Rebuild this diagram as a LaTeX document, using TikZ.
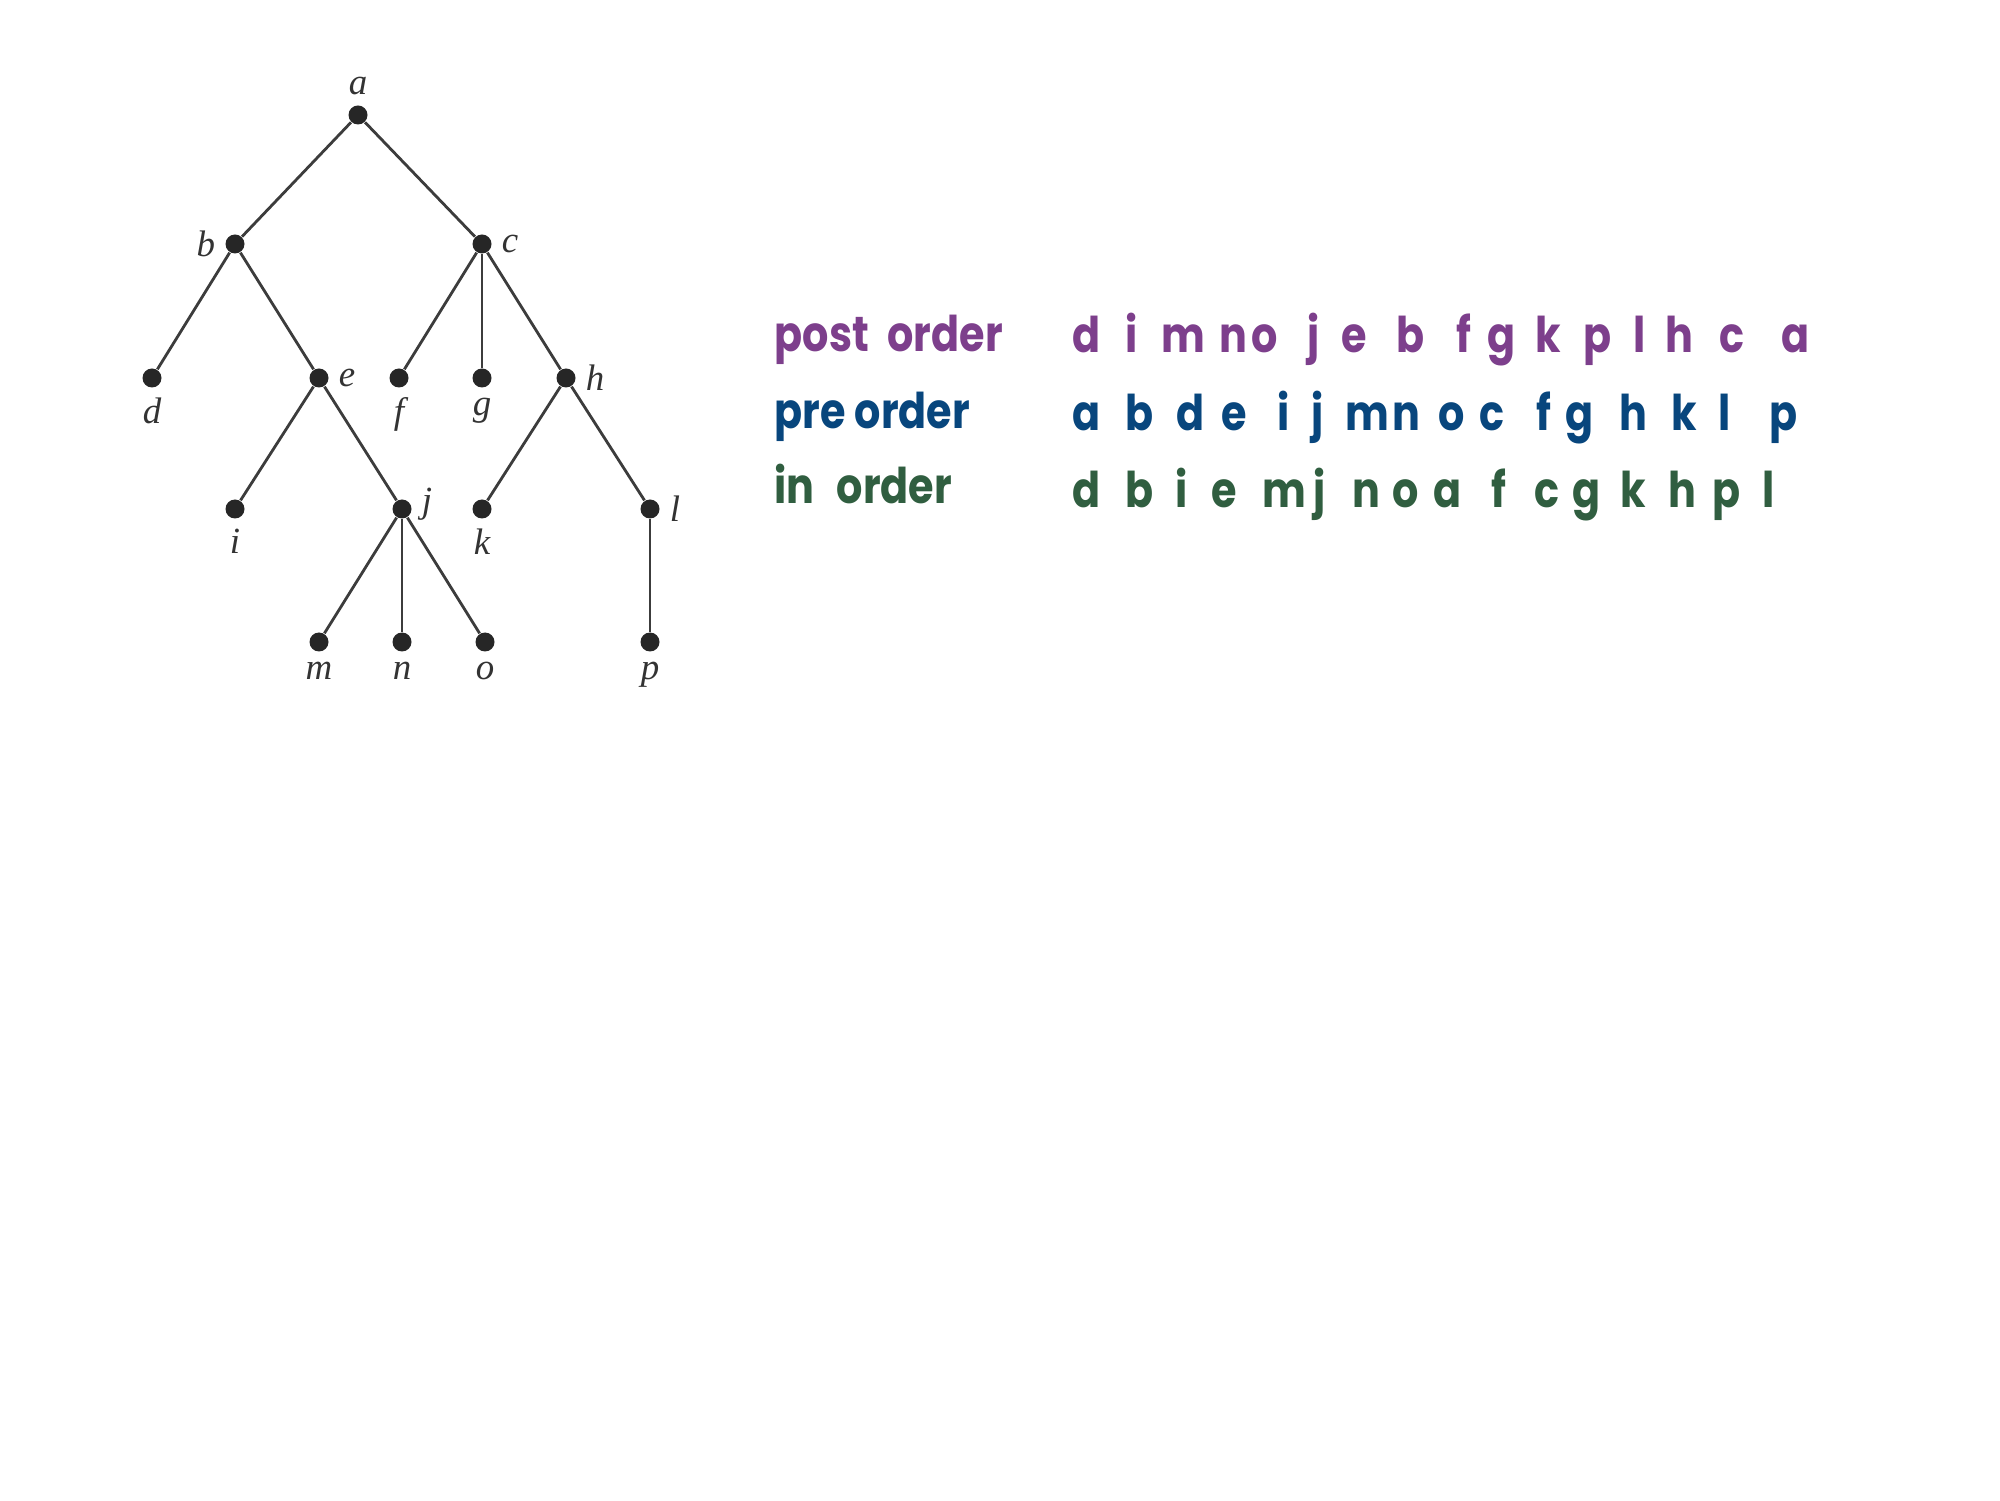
\documentclass[tikz,border=0pt]{standalone}
\usepackage{fontspec}
\usetikzlibrary{positioning}
\newfontfamily\handfont[FakeStretch=0.84]{Poppins}
\newfontfamily\treefont{Liberation Serif}
\definecolor{postcol}{RGB}{125,63,140}
\definecolor{precol}{RGB}{8,70,125}
\definecolor{incol}{RGB}{48,94,64}
\definecolor{edgecol}{RGB}{60,60,60}
\tikzstyle{vertex} = [circle, fill=black!85, inner sep=0pt, minimum size=1.9mm]
\tikzstyle{tlabel} = [inner sep=0pt, font=\treefont\itshape\fontsize{10.5}{12}\selectfont, text=black!80]
\tikzstyle{edge} = [draw=edgecol, line width=0.8pt]
\tikzstyle{rowname} = [anchor=base west, inner sep=0pt, font=\handfont\bfseries\fontsize{14}{16}\selectfont]
\tikzstyle{seq} = [anchor=base, inner sep=0pt, font=\handfont\bfseries\fontsize{14}{16}\selectfont]

\begin{document}
\begin{tikzpicture}[label distance=0.9mm, every label/.style={tlabel}]
    \useasboundingbox (0,0) rectangle (20,15);
    % tree
    \node [vertex, label=above:a] (a) at (3.58,13.85) {};
    \node [vertex, label=left:b]  (b) at (2.35,12.56) {};
    \node [vertex, label=right:c] (c) at (4.82,12.56) {};
    \node [vertex, label=below:d] (d) at (1.52,11.22) {};
    \node [vertex, label=right:e] (e) at (3.19,11.22) {};
    \node [vertex, label=below:f] (f) at (3.99,11.22) {};
    \node [vertex, label=below:g] (g) at (4.82,11.22) {};
    \node [vertex, label=right:h] (h) at (5.66,11.22) {};
    \node [vertex, label=below:i] (i) at (2.35,9.91) {};
    \node [vertex, label={[yshift=0.5mm]right:j}] (j) at (4.02,9.91) {};
    \node [vertex, label=below:k] (k) at (4.82,9.91) {};
    \node [vertex, label=right:l] (l) at (6.50,9.91) {};
    \node [vertex, label=below:m] (m) at (3.19,8.58) {};
    \node [vertex, label=below:n] (n) at (4.02,8.58) {};
    \node [vertex, label=below:o] (o) at (4.85,8.58) {};
    \node [vertex, label=below:p] (p) at (6.50,8.58) {};
    \draw [edge] (a) -- (b);
    \draw [edge] (a) -- (c);
    \draw [edge] (b) -- (d);
    \draw [edge] (b) -- (e);
    \draw [edge] (e) -- (i);
    \draw [edge] (e) -- (j);
    \draw [edge] (j) -- (m);
    \draw [edge] (j) -- (n);
    \draw [edge] (j) -- (o);
    \draw [edge] (c) -- (f);
    \draw [edge] (c) -- (g);
    \draw [edge] (c) -- (h);
    \draw [edge] (h) -- (k);
    \draw [edge] (h) -- (l);
    \draw [edge] (l) -- (p);
    % traversals
    \node [rowname, text=postcol] (postname) at (7.74,11.48) {post\hspace{0.38em}order};
    \node [rowname, text=precol]  (prename)  at (7.74,10.71) {pre order};
    \node [rowname, text=incol]   (inname)   at (7.74,9.96)  {in\hspace{0.45em}order};
    \foreach \x/\l [count=\i] in {10.87/d,11.32/i,11.83/m,12.33/n,12.65/o,13.14/j,13.54/e,14.11/b,
        14.64/f,15.02/g,15.48/k,15.98/p,16.40/l,16.79/h,17.32/c,17.96/a}
        \node [seq, text=postcol] (post\i) at (\x,11.47) {\l};
    \foreach \x/\l [count=\i] in {10.87/a,11.40/b,11.91/d,12.34/e,12.84/i,13.18/j,13.67/m,14.06/n,
        14.52/o,14.92/c,15.44/f,15.80/g,16.33/h,16.84/k,17.25/l,17.84/p}
        \node [seq, text=precol] (pre\i) at (\x,10.69) {\l};
    \foreach \x/\l [count=\i] in {10.87/d,11.40/b,11.82/i,12.24/e,12.84/m,13.20/j,13.66/n,14.06/o,
        14.48/a,14.99/f,15.47/c,15.87/g,16.33/k,16.82/h,17.27/p,17.69/l}
        \node [seq, text=incol] (in\i) at (\x,9.92) {\l};
\end{tikzpicture}
\end{document}
